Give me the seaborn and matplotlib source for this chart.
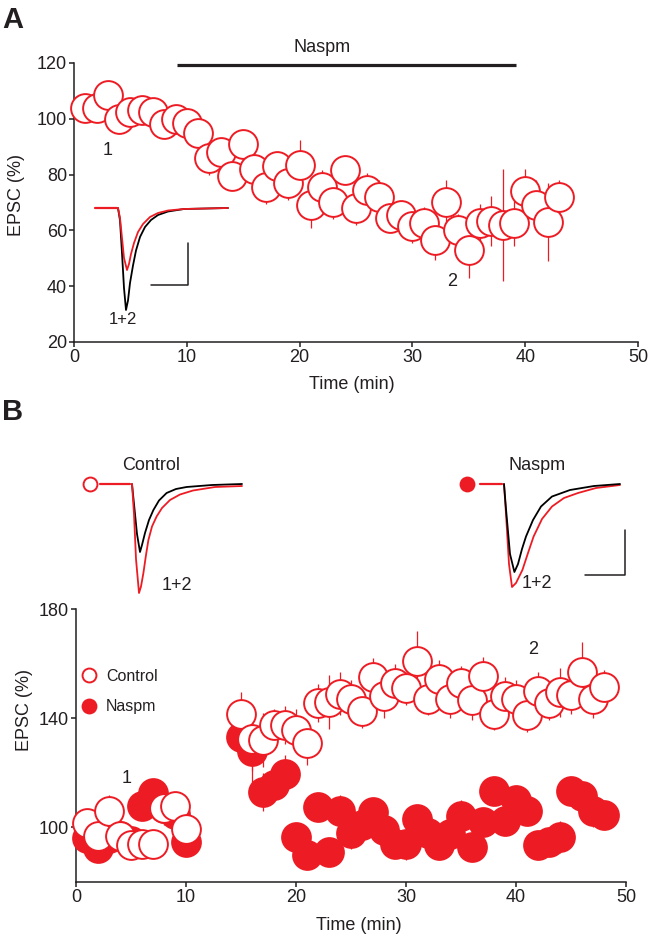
import matplotlib
matplotlib.use('Agg')
import matplotlib.pyplot as plt
from matplotlib.lines import Line2D
import seaborn as sns
import pandas as pd

W, H = 651, 941
RED = '#ED1C24'
INK = '#231F20'

# ---- Panel A: EPSC time course during Naspm ----
time_a = list(range(1, 44))
epsc_a = [104, 104, 108.5, 100, 102.5, 103, 102.5, 98, 100, 98.5,
          95, 86, 88, 79.5, 91, 82, 75.5, 83, 77, 83.5,
          69, 75.5, 70, 81.5, 68, 74.5, 72, 64.5, 65.5, 61.5,
          62.5, 56.5, 70, 60, 53, 62.5, 63.5, 62, 62.5, 74,
          69, 63, 72]
sem_a = [4, 4, 5, 4, 4, 4, 4, 5, 5, 4,
         4, 6, 5, 5, 5, 6, 6, 5, 6, 9,
         8, 6, 6, 5, 6, 6, 6, 5, 5, 6,
         6, 7, 8, 6, 10, 7, 9, 20, 8, 8,
         9, 14, 6]
naspm_bar = (9.1, 39.2)

# ---- Panel B: control vs Naspm-treated ----
time_b = list(range(1, 11)) + list(range(15, 49))
ctrl_b = [101.5, 97, 106, 97, 93.5, 94, 94, 107, 108, 99.5,
          141.5, 132.5, 132, 137.5, 137.5, 135.5, 131, 145.5, 146, 149,
          147, 142.5, 155, 148, 153, 151, 161, 147, 154.5, 147,
          153, 146.5, 155.5, 141.5, 148, 147, 141, 150, 145.5, 149.5,
          148.5, 157, 147, 151.5]
ctrl_sem = [5, 6, 6, 5, 5, 5, 5, 6, 5, 5,
            8, 12, 10, 6, 7, 8, 8, 7, 10, 8,
            7, 6, 7, 8, 7, 6, 11, 6, 7, 7,
            6, 7, 7, 6, 7, 7, 6, 7, 6, 9,
            7, 11, 7, 6]
nasp_b = [96, 92.5, 96, 97, 95, 108, 112.5, 107, 105, 94.5,
          133, 128, 113, 115.5, 119.5, 96.5, 90, 107.5, 91, 106,
          98, 101, 105.5, 99, 94, 94, 103, 98, 93.5, 97.5,
          104, 93, 102, 113.5, 102.5, 110, 106, 93.5, 94.5, 96.5,
          113.5, 111.5, 106, 104.5]
nasp_sem = [4, 4, 4, 4, 4, 4, 5, 4, 4, 4,
            5, 12, 7, 6, 7, 5, 5, 5, 5, 6,
            6, 6, 5, 4, 5, 6, 5, 5, 5, 5,
            6, 5, 5, 5, 5, 5, 5, 5, 5, 6,
            5, 5, 6, 5]

# ---- example EPSC traces (ms, pA) ----
trA_t1 = [0, 1, 2, 3, 4.5, 5.5, 6.5, 8, 10, 12.5, 16, 20, 25, 33, 55]
trA_r1 = [0, -20, -60, -100, -124, -112, -92, -70, -48, -32, -18, -10, -5, -2, 0]
trA_t2 = [0, 1, 2, 3, 4, 5, 6, 7.5, 9, 11, 13.5, 16.5, 20, 25, 33, 55]
trA_b2 = [0, -25, -90, -160, -204, -185, -150, -115, -85, -58, -38, -24, -14, -7, -2, 0]

trC_tr = [0, 1, 2, 3.5, 4.5, 5.7, 7, 8.2, 10, 12.3, 15, 19, 24, 30.5, 41.5, 55]
trC_red = [0, -60, -150, -218, -205, -178, -142, -112, -85, -65, -48, -32, -21, -13, -6, -4]
trC_tb = [0, 1, 2.5, 4, 5, 6.5, 8.5, 10.7, 13.5, 17.3, 22, 27.3, 40, 55]
trC_blk = [0, -40, -100, -136, -122, -98, -72, -52, -33, -18, -10, -6, -2, 0]

trN_tr = [0, 1, 2.5, 4, 6, 9.2, 12, 14.8, 19, 24, 30, 37, 46, 58]
trN_red = [0, -60, -160, -206, -198, -172, -138, -105, -70, -45, -28, -18, -8, -2]
trN_tb = [0, 1, 3, 5.2, 7, 9, 11, 14.5, 18.5, 24, 33, 45, 58]
trN_blk = [0, -50, -140, -176, -160, -130, -105, -72, -45, -25, -12, -4, 0]


def px_rect(x0, y0, x1, y1):
    return [x0 / W, 1 - y1 / H, (x1 - x0) / W, (y1 - y0) / H]


sns.set_style('ticks')
plt.rcParams['font.family'] = ['Liberation Sans', 'DejaVu Sans']
plt.rcParams['text.color'] = INK
plt.rcParams['axes.labelcolor'] = INK
plt.rcParams['xtick.color'] = INK
plt.rcParams['ytick.color'] = INK

fig = plt.figure(figsize=(W / 100, H / 100), dpi=100)


def style_axes(ax):
    sns.despine(ax=ax)
    for s in ('left', 'bottom'):
        ax.spines[s].set_linewidth(1.1)
        ax.spines[s].set_color(INK)
    ax.tick_params(direction='out', length=3.5, width=1.1, labelsize=13, pad=1.5)


# ---------------- Panel A ----------------
ax_a = fig.add_axes(px_rect(74, 63, 638, 342))
df_a = pd.DataFrame({'time': time_a, 'epsc': epsc_a, 'sem': sem_a})
ax_a.errorbar(df_a['time'], df_a['epsc'], yerr=df_a['sem'], fmt='none',
              ecolor=RED, elinewidth=0.9, capsize=0, zorder=2)
sns.scatterplot(data=df_a, x='time', y='epsc', ax=ax_a, s=430, color='white',
                edgecolor=RED, linewidth=1.4, zorder=3, legend=False, clip_on=False)
ax_a.set_xlim(0, 50)
ax_a.set_ylim(20, 120)
ax_a.set_xticks([0, 10, 20, 30, 40, 50])
ax_a.set_yticks([20, 40, 60, 80, 100, 120])
ax_a.set_xlabel('Time (min)', fontsize=13)
ax_a.set_ylabel('EPSC (%)', fontsize=13)
ax_a.xaxis.set_label_coords(0.493, -0.123)
ax_a.yaxis.set_label_coords(-0.087, 0.527)
style_axes(ax_a)
ax_a.plot(naspm_bar, [119.3, 119.3], color=INK, lw=2.3, clip_on=False,
          solid_capstyle='butt')
ax_a.text(sum(naspm_bar) / 2 - 2.2, 125.7, 'Naspm', fontsize=13,
          ha='center', va='center')
ax_a.text(3.0, 88.8, '1', fontsize=13, ha='center', va='center')
ax_a.text(33.5, 41.6, '2', fontsize=13, ha='center', va='center')
fig.text(2 / W, 1 - 6 / H, 'A', fontsize=21, fontweight='bold', ha='left', va='top')

# inset traces A
in_a = fig.add_axes(px_rect(90, 195, 230, 320))
in_a.set_xlim(-14, 56)
in_a.set_ylim(-224, 26)
in_a.axis('off')
in_a.plot(trA_t2, trA_b2, color='black', lw=1.3)
in_a.plot(trA_t1, trA_r1, color=RED, lw=1.3)
in_a.plot([-11.5, -0.5], [0, 0], color=RED, lw=1.6)
in_a.plot([16.4, 34.9, 34.9], [-154, -154, -70], color=INK, lw=1.1)
in_a.text(2.3, -224, '1+2', fontsize=12, ha='center', va='center')

# ---------------- Panel B ----------------
ax_b = fig.add_axes(px_rect(76, 609, 626, 882))
df_b = pd.DataFrame({'time': time_b * 2,
                     'epsc': ctrl_b + nasp_b,
                     'sem': ctrl_sem + nasp_sem,
                     'condition': ['Control'] * len(time_b) + ['Naspm'] * len(time_b)})
dn = df_b[df_b['condition'] == 'Naspm']
dc = df_b[df_b['condition'] == 'Control']
ax_b.errorbar(dn['time'], dn['epsc'], yerr=dn['sem'], fmt='none',
              ecolor=RED, elinewidth=0.9, capsize=0, zorder=2)
sns.scatterplot(data=dn, x='time', y='epsc', ax=ax_b, s=430, color=RED,
                edgecolor=RED, linewidth=1.4, zorder=3, legend=False, clip_on=False)
ax_b.errorbar(dc['time'], dc['epsc'], yerr=dc['sem'], fmt='none',
              ecolor=RED, elinewidth=0.9, capsize=0, zorder=4)
sns.scatterplot(data=dc, x='time', y='epsc', ax=ax_b, s=430, color='white',
                edgecolor=RED, linewidth=1.4, zorder=5, legend=False, clip_on=False)
ax_b.set_xlim(0, 50)
ax_b.set_ylim(80, 180)
ax_b.set_xticks([0, 10, 20, 30, 40, 50])
ax_b.set_yticks([100, 140, 180])
ax_b.set_xlabel('Time (min)', fontsize=13)
ax_b.set_ylabel('EPSC (%)', fontsize=13)
ax_b.xaxis.set_label_coords(0.515, -0.13)
ax_b.yaxis.set_label_coords(-0.078, 0.63)
style_axes(ax_b)
ax_b.text(4.6, 118, '1', fontsize=13, ha='center', va='center')
ax_b.text(41.6, 165, '2', fontsize=13, ha='center', va='center')
handles = [Line2D([], [], ls='none', marker='o', ms=10, mfc='white', mec=RED, mew=1.4),
           Line2D([], [], ls='none', marker='o', ms=10, mfc=RED, mec=RED, mew=1.4)]
ax_b.legend(handles, ['Control', 'Naspm'], loc='upper left', bbox_to_anchor=(0.011, 0.78),
            frameon=False, fontsize=11.5, handlelength=0.9, handletextpad=0.6,
            labelspacing=0.95, borderpad=0, borderaxespad=0)
fig.text(2 / W, 1 - 398 / H, 'B', fontsize=21, fontweight='bold', ha='left', va='top')

# inset traces B (control)
in_c = fig.add_axes(px_rect(80, 470, 250, 610))
in_c.set_xlim(-26, 59)
in_c.set_ylim(-252, 28)
in_c.axis('off')
in_c.plot(trC_tb, trC_blk, color='black', lw=1.3)
in_c.plot(trC_tr, trC_red, color=RED, lw=1.3)
in_c.plot([-16, -1], [0, 0], color=RED, lw=1.6)
in_c.plot([-21], [0], marker='o', ms=10, mfc='white', mec=RED, mew=1.4)
in_c.text(9.5, 38, 'Control', fontsize=13, ha='center', va='center')
in_c.text(22.5, -202, '1+2', fontsize=13, ha='center', va='center')

# inset traces B (Naspm)
in_n = fig.add_axes(px_rect(455, 470, 630, 610))
in_n.set_xlim(-24.5, 63)
in_n.set_ylim(-252, 28)
in_n.axis('off')
in_n.plot(trN_tr, trN_red, color=RED, lw=1.3)
in_n.plot(trN_tb, trN_blk, color='black', lw=1.3)
in_n.plot([-12, -1], [0, 0], color=RED, lw=1.6)
in_n.plot([-18.5], [0], marker='o', ms=10, mfc=RED, mec=RED, mew=1.4)
in_n.plot([40.5, 60.5, 60.5], [-182, -182, -92], color=INK, lw=1.1)
in_n.text(16.5, 38, 'Naspm', fontsize=13, ha='center', va='center')
in_n.text(16.5, -198, '1+2', fontsize=13, ha='center', va='center')

fig.savefig('out.png', dpi=100)
